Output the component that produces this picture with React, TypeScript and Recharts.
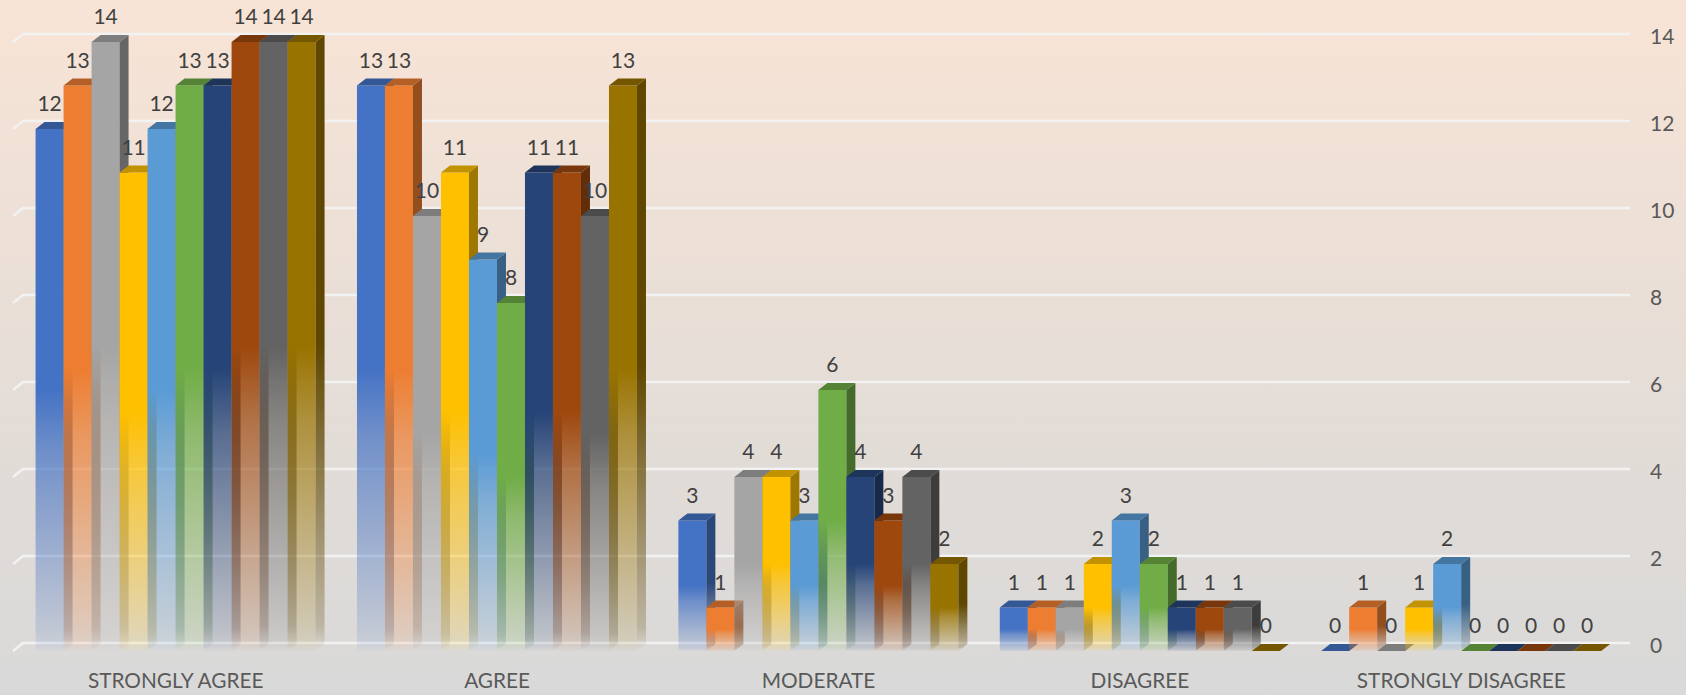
import React from "react";
import { BarChart, Bar, XAxis, YAxis, CartesianGrid, LabelList } from "recharts";

const categories = ["STRONGLY AGREE", "AGREE", "MODERATE", "DISAGREE", "STRONGLY DISAGREE"];
const yTicks = [0, 2, 4, 6, 8, 10, 12, 14];

const series1 = [12, 13, 3, 1, 0];
const series2 = [13, 13, 1, 1, 1];
const series3 = [14, 10, 4, 1, 0];
const series4 = [11, 11, 4, 2, 1];
const series5 = [12, 9, 3, 3, 2];
const series6 = [13, 8, 6, 2, 0];
const series7 = [13, 11, 4, 1, 0];
const series8 = [14, 11, 3, 1, 0];
const series9 = [14, 10, 4, 1, 0];
const series10 = [14, 13, 2, 0, 0];

const allSeries = [series1, series2, series3, series4, series5, series6, series7, series8, series9, series10];
const colors = ["#4472c4", "#ed7d31", "#a5a5a5", "#ffc000", "#5b9bd5", "#70ad47", "#264478", "#9e480e", "#636363", "#997300"];

const rows = categories.map((name, i) => {
  const row: Record<string, string | number> = { name };
  allSeries.forEach((s, j) => {
    row[`s${j}`] = s[i];
  });
  return row;
});

// the fake 3d depth of the bars and the grid behind them
const DEPTH_X = 9;
const DEPTH_Y = 7;
const GRID_SHIFT = 8;
const FONT = "Lato, 'Open Sans', sans-serif";

function shade(hex: string, k: number) {
  const n = parseInt(hex.slice(1), 16);
  const c = [(n >> 16) & 255, (n >> 8) & 255, n & 255].map((v) => Math.round(v * k));
  return `rgb(${c[0]},${c[1]},${c[2]})`;
}

function Bar3D(props: any) {
  const { x, y, width, height, idx } = props;
  const color = colors[idx];
  const r = x + width;
  const b = y + height;
  return (
    <g>
      {height > 0 && <rect x={x} y={y} width={width} height={height} fill={`url(#front${idx})`} />}
      {height > 0 && (
        <path
          d={`M${r} ${y}L${r + DEPTH_X} ${y - DEPTH_Y}L${r + DEPTH_X} ${b - DEPTH_Y}L${r} ${b}Z`}
          fill={`url(#side${idx})`}
        />
      )}
      <path
        d={`M${x} ${y}L${x + DEPTH_X} ${y - DEPTH_Y}L${r + DEPTH_X} ${y - DEPTH_Y}L${r} ${y}Z`}
        fill={shade(color, 0.76)}
      />
    </g>
  );
}

function GridLine(props: any) {
  const { x1, x2, y1 } = props;
  return (
    <path
      d={`M${x1 - 2} ${y1}L${x1 + GRID_SHIFT} ${y1 - GRID_SHIFT}L${x2 + GRID_SHIFT} ${y1 - GRID_SHIFT}`}
      fill="none"
      stroke="#f2f2f2"
      strokeWidth={2.5}
    />
  );
}

function RightTick(props: any) {
  const { x, y, payload } = props;
  return (
    <text x={x + 20} y={y - GRID_SHIFT + 10} fill="#595959" fontSize={21} fontFamily={FONT}>
      {payload.value}
    </text>
  );
}

export default function App() {
  return (
    <div
      style={{
        position: "absolute",
        left: 0,
        top: 0,
        width: 1686,
        height: 695,
        background: "linear-gradient(180deg, #f8e4d6 0%, #e2dcd7 65%, #d9d9d9 100%)",
      }}
    >
      <BarChart
        width={1686}
        height={695}
        data={rows}
        margin={{ top: 42, right: 0, bottom: 0, left: 15 }}
        barCategoryGap="6.4%"
        barGap={0}
      >
        <defs>
          {colors.map((c, i) => (
            <linearGradient key={`front${i}`} id={`front${i}`} x1="0" y1="0" x2="0" y2="1">
              <stop offset="0.5" stopColor={c} stopOpacity={1} />
              <stop offset="0.62" stopColor={c} stopOpacity={0.72} />
              <stop offset="0.96" stopColor={c} stopOpacity={0.18} />
              <stop offset="0.985" stopColor={c} stopOpacity={0.12} />
              <stop offset="1" stopColor={c} stopOpacity={0.02} />
            </linearGradient>
          ))}
          {colors.map((c, i) => (
            <linearGradient key={`side${i}`} id={`side${i}`} x1="0" y1="0" x2="0" y2="1">
              <stop offset="0.5" stopColor={shade(c, 0.62)} stopOpacity={1} />
              <stop offset="0.96" stopColor={shade(c, 0.62)} stopOpacity={0.25} />
              <stop offset="1" stopColor={shade(c, 0.62)} stopOpacity={0} />
            </linearGradient>
          ))}
        </defs>
        <CartesianGrid vertical={false} horizontal={(p: any) => <GridLine key={p.y1} {...p} />} />
        <XAxis
          dataKey="name"
          height={44}
          axisLine={false}
          tickLine={false}
          interval={0}
          tickMargin={16}
          tick={{ fill: "#595959", fontSize: 20.8, fontFamily: FONT }}
        />
        <YAxis
          orientation="right"
          width={64}
          domain={[0, 14]}
          ticks={yTicks}
          axisLine={false}
          tickLine={false}
          tick={(p: any) => <RightTick {...p} />}
        />
        {colors.map((c, i) => (
          <Bar
            key={i}
            dataKey={`s${i}`}
            fill={c}
            isAnimationActive={false}
            shape={(p: any) => <Bar3D {...p} idx={i} />}
          >
            <LabelList
              dataKey={`s${i}`}
              position="top"
              offset={18}
              fill="#404040"
              fontSize={21}
              fontFamily={FONT}
            />
          </Bar>
        ))}
      </BarChart>
    </div>
  );
}
